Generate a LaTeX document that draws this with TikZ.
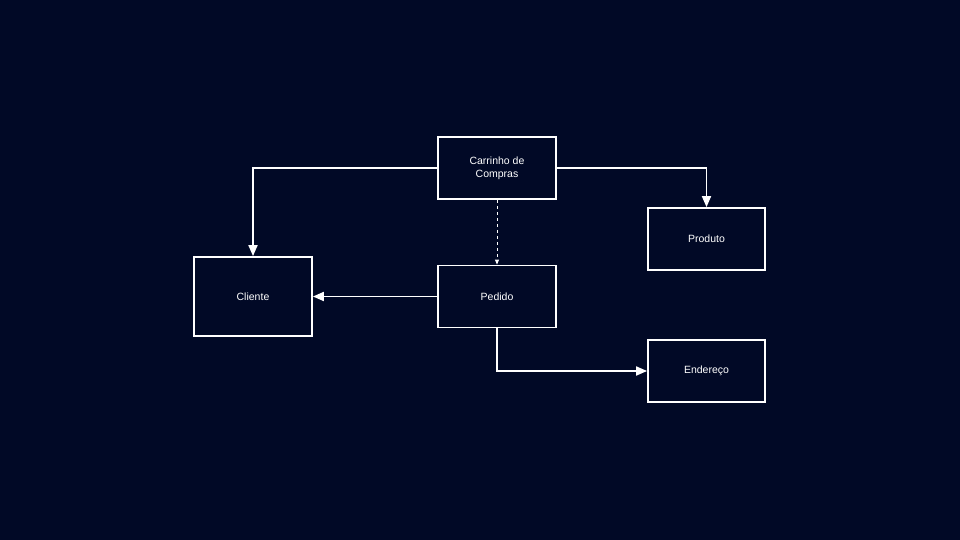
\documentclass[tikz,border=0pt]{standalone}
\usepackage{fontspec}
\setmainfont{Liberation Sans}
\usepackage{tikz}
\usetikzlibrary{arrows.meta}
\definecolor{fundo}{RGB}{1,9,38}
\newcommand{\linha}{1.8pt}

\begin{document}
\begin{tikzpicture}[x=1pt,y=-1pt,
  caixa/.style={draw=white, line width=\linha, minimum width=118pt, minimum height=62pt, inner sep=0pt, align=center, text=white, font=\fontsize{10.5}{13}\selectfont},
  seta/.style={draw=white, line width=\linha, -{Triangle[length=11pt,width=9pt]}},
  tracejada/.style={draw=white, line width=.8pt, dashed, -{Triangle[length=5pt,width=4pt]}}]

        \fill[fundo] (0,0) rectangle (960,540);
        \useasboundingbox (0,0) rectangle (960,540);

        \node (carrinho) at (497,168)  [caixa] {Carrinho de\\Compras};
        \node (produto) at (706.5,239)  [caixa, minimum width=117pt] {Produto};
        \node (cliente) at (253,296.5)  [caixa, minimum height=79pt] {Cliente};
        \node (pedido) at (497,296.5)  [caixa] {Pedido};
        \node (endereco) at (706.5,371)  [caixa, minimum width=117pt] {Endereço};
        \draw[seta] (carrinho.west) -| (cliente.north);
        \draw[seta] (carrinho.east) -| (produto.north);
        \draw[seta] (pedido.west) to (cliente.east);
        \draw[seta] (pedido.south) |- (endereco.west);
        \draw[tracejada] (carrinho.south) to (pedido.north);
        \end{tikzpicture}
\end{document}
